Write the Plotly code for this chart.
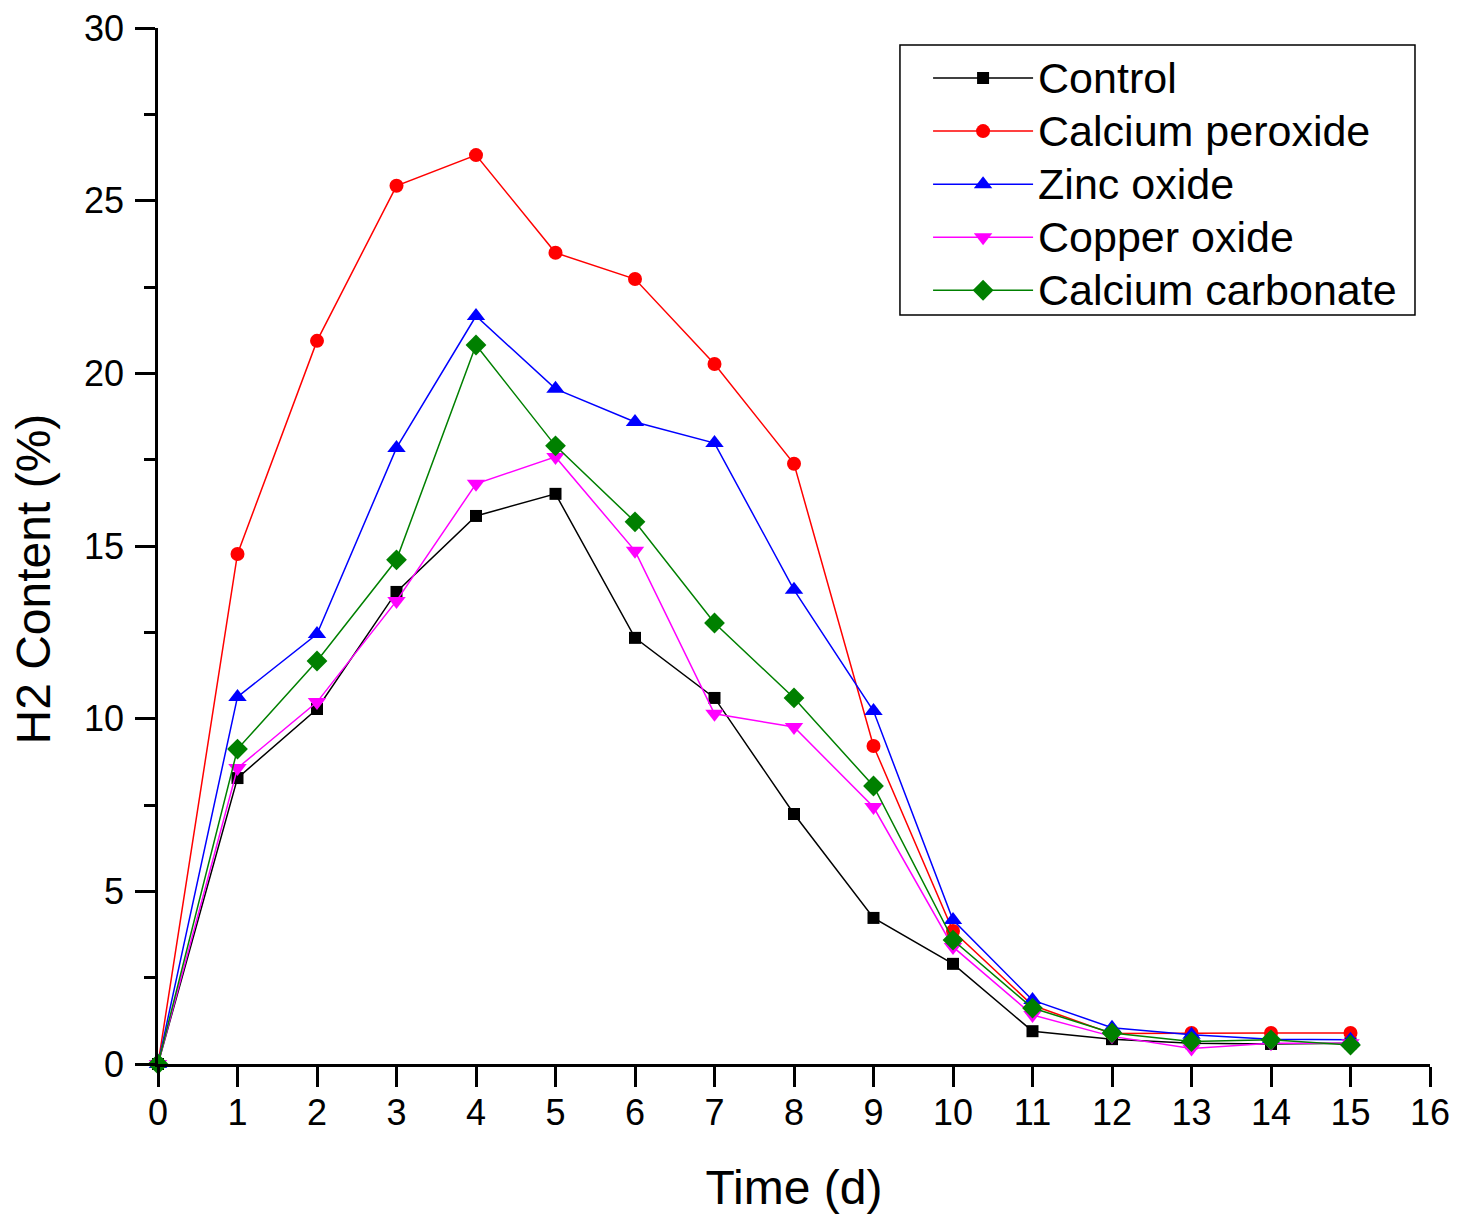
import plotly.graph_objects as go

days = list(range(16))
control = [0, 8.28, 10.28, 13.67, 15.87, 16.51, 12.34, 10.6, 7.24, 4.23, 2.9, 0.95, 0.72, 0.6, 0.58, 0.6]
calcium_peroxide = [0, 14.77, 20.94, 25.43, 26.32, 23.49, 22.73, 20.27, 17.38, 9.21, 3.85, 1.7, 0.88, 0.9, 0.9, 0.9]
zinc_oxide = [0, 10.63, 12.45, 17.84, 21.66, 19.55, 18.59, 17.98, 13.73, 10.22, 4.17, 1.85, 1.05, 0.85, 0.72, 0.7]
copper_oxide = [0, 8.57, 10.48, 13.41, 16.8, 17.58, 14.86, 10.14, 9.76, 7.44, 3.39, 1.42, 0.8, 0.45, 0.6, 0.6]
calcium_carbonate = [0, 9.12, 11.67, 14.6, 20.82, 17.9, 15.7, 12.77, 10.6, 8.05, 3.59, 1.62, 0.9, 0.65, 0.7, 0.55]

series = [
    ("Control", control, "black", "square", 12),
    ("Calcium peroxide", calcium_peroxide, "red", "circle", 14),
    ("Zinc oxide", zinc_oxide, "blue", "triangle-up", 16),
    ("Copper oxide", copper_oxide, "magenta", "triangle-down", 16),
    ("Calcium carbonate", calcium_carbonate, "green", "diamond", 16),
]

fig = go.Figure()
for name, vals, color, sym, size in series:
    fig.add_trace(go.Scatter(
        x=days, y=vals, name='<span style="font-size:43px">' + name + '</span>',
        mode="lines+markers",
        line=dict(color=color, width=1.5),
        marker=dict(symbol=sym, size=size, color=color),
        cliponaxis=False,
    ))

font_family = "Liberation Sans, Arial, sans-serif"
fig.update_layout(
    width=1473, height=1219,
    margin=dict(l=150, r=51, t=20, b=163),
    plot_bgcolor="white", paper_bgcolor="white",
    font=dict(family=font_family, color="black"),
    showlegend=True,
    legend=dict(
        x=0.6054, y=0.9821, xanchor="left", yanchor="top",
        bgcolor="rgba(0,0,0,0)", borderwidth=0,
        font=dict(size=38.5, family=font_family, color="black"),
        tracegroupgap=0, itemwidth=100,
    ),
    xaxis=dict(
        range=[0, 16], dtick=1, tick0=0, automargin=False,
        showgrid=False, zeroline=False,
        showline=True, linecolor="black", linewidth=2.5,
        ticks="outside", ticklen=20, tickwidth=2.5, tickcolor="black",
        tickfont=dict(size=36, family=font_family, color="black"),
        ticklabelstandoff=-5, ticklabeloverflow="allow",
        title=dict(text="Time (d)", font=dict(size=48, family=font_family, color="black"), standoff=39),
    ),
    yaxis=dict(
        range=[0, 30], dtick=5, tick0=0, automargin=False,
        showgrid=False, zeroline=False,
        showline=True, linecolor="black", linewidth=2.5,
        ticks="outside", ticklen=20, tickwidth=2.5, tickcolor="black",
        tickfont=dict(size=36, family=font_family, color="black"),
        ticklabelstandoff=4, ticklabeloverflow="allow",
        minor=dict(dtick=2.5, ticks="outside", ticklen=11, tickwidth=2.5, tickcolor="black", showgrid=False),
    ),
    shapes=[dict(
        type="rect", xref="paper", yref="paper",
        x0=0.5833, x1=0.9882, y0=0.723, y1=0.9836,
        line=dict(color="black", width=1.5), fillcolor="rgba(0,0,0,0)", layer="above",
    )],
    annotations=[dict(
        text="H2 Content (%)", textangle=-90, showarrow=False,
        xref="paper", yref="paper", x=-0.098, y=0.468,
        xanchor="center", yanchor="middle",
        font=dict(size=48, family=font_family, color="black"),
    )],
)

fig.write_html("out.html")
